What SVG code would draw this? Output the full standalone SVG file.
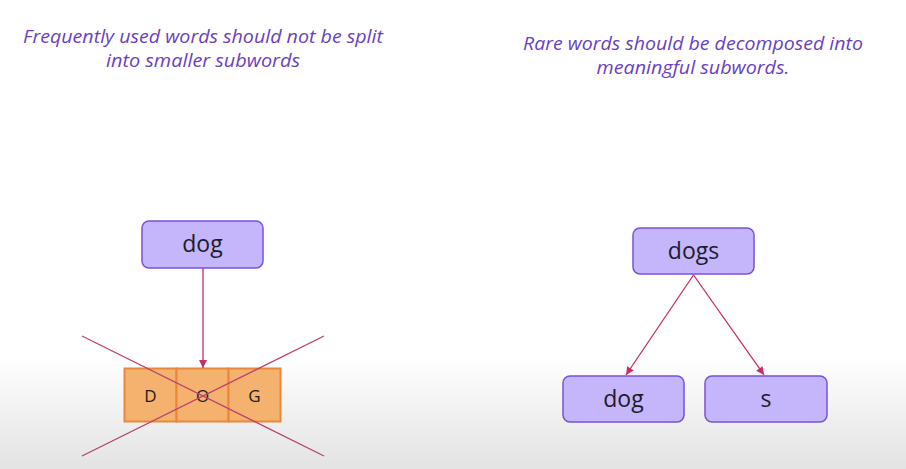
<svg xmlns="http://www.w3.org/2000/svg" width="906" height="469" viewBox="0 0 906 469">
<defs>
<linearGradient id="bg" x1="0" y1="0" x2="0" y2="1">
<stop offset="0" stop-color="#ffffff"/>
<stop offset="0.76" stop-color="#ffffff"/>
<stop offset="1" stop-color="#e3e3e3"/>
</linearGradient>
<marker id="ah" viewBox="0 0 10 10" refX="10" refY="5" markerWidth="9" markerHeight="8" markerUnits="userSpaceOnUse" orient="auto">
<path d="M0,0 L10,5 L0,10 z" fill="#cc2a6b"/>
</marker>
<style>
.hd{font-family:"Open Sans","Liberation Sans",sans-serif;font-style:italic;font-size:19px;fill:#6a3fbf;text-anchor:middle}
.nd rect{fill:#c5b5fa;stroke:#7a52d8;stroke-width:1.5}
.nd text{font-family:"Open Sans","Noto Sans",sans-serif;font-size:23px;fill:#1c1c2a;text-anchor:middle}
.cell rect{fill:#f5b16e;stroke:#e8883a;stroke-width:2}
.cell text{font-family:"Open Sans","Liberation Sans",sans-serif;font-size:17px;fill:#1c1c1c;text-anchor:middle}
.cn line{stroke:#cc2a6b;stroke-width:1.3;marker-end:url(#ah)}
.x line{stroke:#b8416f;stroke-width:1.3}
</style>
</defs>
<rect width="906" height="469" fill="url(#bg)"/>
<text class="hd" x="203" y="43" textLength="360" lengthAdjust="spacingAndGlyphs">Frequently used words should not be split</text>
<text class="hd" x="203" y="67" textLength="194" lengthAdjust="spacingAndGlyphs">into smaller subwords</text>
<text class="hd" x="693" y="50" textLength="340" lengthAdjust="spacingAndGlyphs">Rare words should be decomposed into</text>
<text class="hd" x="693" y="74" textLength="193" lengthAdjust="spacingAndGlyphs">meaningful subwords.</text>
<g id="node-dog-left" class="nd"><rect x="142" y="221" width="121" height="47" rx="7"/><text x="202.5" y="252">dog</text></g>
<g id="node-DOG" class="cell">
<rect x="124.5" y="368.5" width="52" height="53"/>
<rect x="176.5" y="368.5" width="52" height="53"/>
<rect x="228.5" y="368.5" width="52" height="53"/>
<text x="150.5" y="402">D</text><text x="202.5" y="402">O</text><text x="254.5" y="402">G</text>
</g>
<g id="node-dogs" class="nd"><rect x="633" y="228" width="121" height="46" rx="7"/><text x="693.5" y="259">dogs</text></g>
<g id="node-dog-right" class="nd"><rect x="563" y="376" width="121" height="46" rx="7"/><text x="623.5" y="407">dog</text></g>
<g id="node-s" class="nd"><rect x="705" y="376" width="122" height="46" rx="7"/><text x="766" y="407">s</text></g>
<g id="connectors">
<g class="cn">
<line x1="203" y1="268" x2="203" y2="368"/>
<line x1="693.5" y1="275" x2="626" y2="375"/>
<line x1="693.5" y1="275" x2="764" y2="375"/>
</g>
<g class="x">
<line x1="82" y1="336" x2="324" y2="456"/>
<line x1="82" y1="456" x2="324" y2="336"/>
</g>
</g>
</svg>
